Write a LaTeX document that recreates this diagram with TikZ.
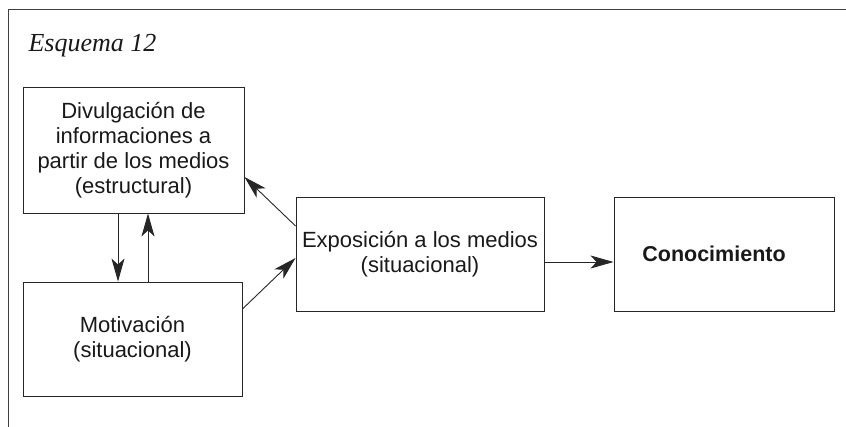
\documentclass[tikz,border=0pt]{standalone}
\usepackage{fontspec}
\setmainfont{Liberation Sans}
\newfontfamily\titlefont{Liberation Serif}
\usetikzlibrary{arrows.meta}
\begin{document}
\begin{tikzpicture}[x=1pt,y=-1pt,
  box/.style={draw=black!85,line width=0.9pt,inner sep=0pt,align=center,
    font=\fontsize{22}{25}\selectfont,text=black!90},
  arr/.style={draw=black!85,line width=0.9pt,
    -{Stealth[length=23pt,width=13pt,inset=6pt]}}]
\useasboundingbox (0,0) rectangle (846,427);
% open frame: left and top edges only
\draw[black!75,line width=1pt] (8,427) -- (8,10) -- (846,10);
\node[anchor=base west,font=\titlefont\itshape\fontsize{26}{30}\selectfont,text=black!90]
  (title) at (25,52) {Esquema 12};
% boxes
\node[box,minimum width=221pt,minimum height=126pt] (A) at (133.5,150)
  {Divulgación de\\informaciones a\\partir de los medios\\(estructural)};
\node[box,minimum width=219pt,minimum height=114pt] (M) at (132.5,339)
  {Motivación\\(situacional)};
\node[box,minimum width=248pt,minimum height=114pt] (E) at (420,254)
  {\raisebox{-8pt}{\shortstack{Exposición a los medios\\[2pt](situacional)}}};
\node[box,minimum width=220pt,minimum height=114pt] (C) at (724,254)
  {\bfseries\fontsize{21.5}{25}\selectfont Conocimiento\hspace{20pt}};
% connectors
\draw[arr] ([xshift=-15.5pt]A.south) -- ([xshift=-15.5pt]A.south |- M.north);
\draw[arr] ([xshift=14.5pt]A.south |- M.north) -- ([xshift=14.5pt]A.south);
\draw[arr] ([yshift=28pt]E.west) -- ([yshift=-27pt]A.east);
\draw[arr] ([yshift=30pt]M.east) -- ([yshift=-4pt]E.west);
\draw[arr] ([yshift=-8pt]E.east) -- ([yshift=-8pt]C.west);
\end{tikzpicture}
\end{document}
